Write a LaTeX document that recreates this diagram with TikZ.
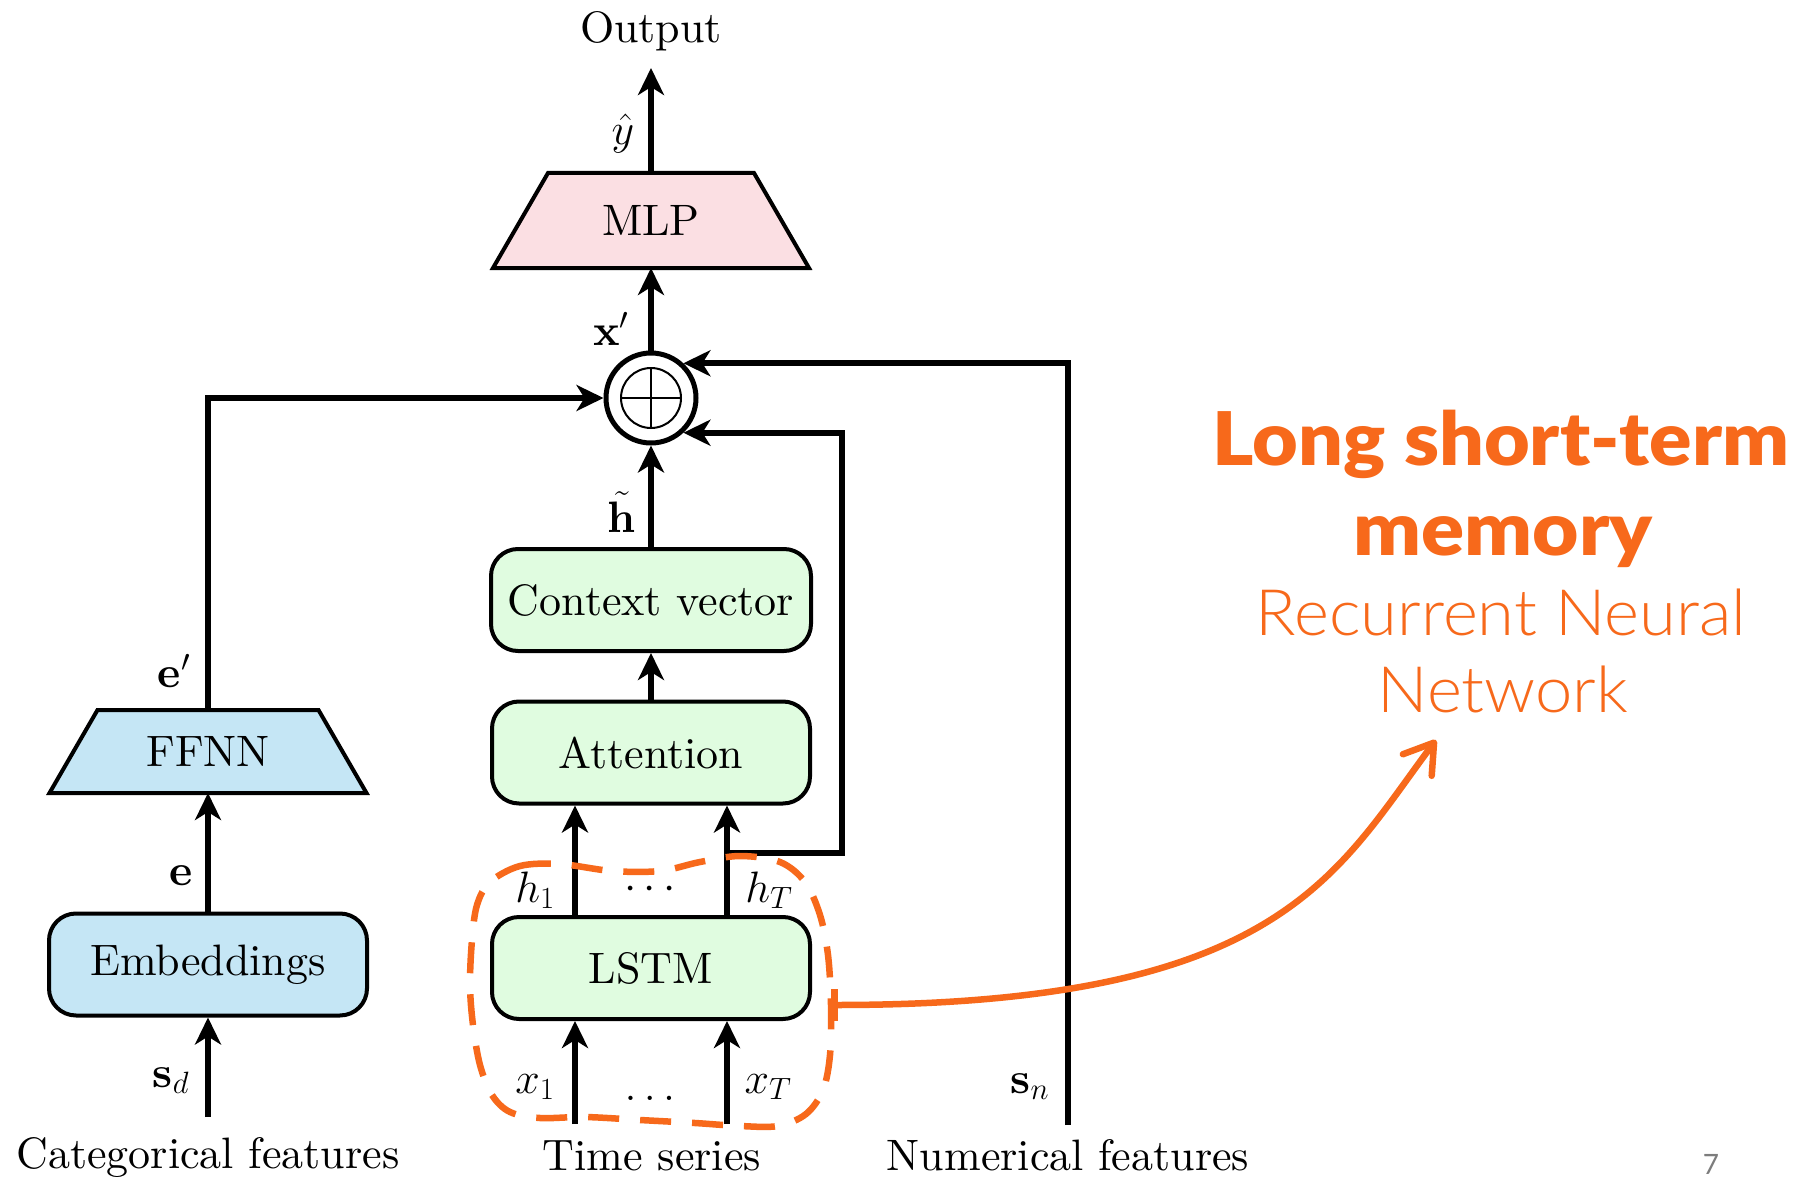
\RequirePackage{fix-cm}
\documentclass[tikz,border=0pt]{standalone}
\usepackage{fontspec}
\setmainfont{lmroman10-regular.otf}[
  BoldFont=lmroman10-bold.otf,
  ItalicFont=lmroman10-italic.otf,
  BoldItalicFont=lmroman10-bolditalic.otf]
\newfontfamily\headfont{Lato Black}
\newfontfamily\subfont{Lato Light}
\newfontfamily\pagefont{Lato}
\usetikzlibrary{arrows.meta,calc,backgrounds}

\definecolor{mlppink}{RGB}{251,223,227}
\definecolor{catblue}{RGB}{197,230,245}
\definecolor{seqgreen}{RGB}{224,252,224}
\definecolor{hiorange}{RGB}{247,105,27}
\definecolor{pagegray}{RGB}{125,125,125}

% widened orange captions
\newcommand{\headline}[2]{\scalebox{#1}[1]{#2}}

\begin{document}
\begin{tikzpicture}[x=1pt,y=-1pt,
  font=\fontsize{44}{52}\selectfont,
  conn/.style={line width=6pt},
  arr/.style={conn,-{Stealth[length=27pt,width=26pt,inset=8pt]}},
  rbox/.style={draw,line width=4pt,rounded corners=27pt,
    minimum width=318pt,minimum height=102pt,inner sep=0pt},
  trapbody/.style={inner sep=0pt,outer sep=0pt},
  trapline/.style={draw,line width=4pt,line join=miter},
  lbl/.style={anchor=base},
  hiline/.style={draw=hiorange,line width=6.5pt},
  headtxt/.style={anchor=base,text=hiorange,font=\headfont\fontsize{74}{80}\selectfont},
  subtxt/.style={anchor=base,text=hiorange,font=\subfont\fontsize{64}{70}\selectfont}]

\useasboundingbox (0,0) rectangle (1818,1177);

% ---------- blocks ----------
\node[trapbody,minimum width=316pt,minimum height=95pt] (mlp) at (651,220.5) {MLP};
\node[trapbody,minimum width=317pt,minimum height=83pt] (ffnn) at (208,751.5) {FFNN};

\node[rbox,fill=seqgreen,minimum width=320pt] (ctx) at (651,600) {Context vector};
\node[rbox,fill=seqgreen] (att) at (651,752.5) {Attention};
\node[rbox,fill=seqgreen] (lstm) at (651,968) {LSTM};
\node[rbox,fill=catblue] (emb) at (208,964.5) {Embeddings};

\node[circle,draw,line width=5pt,minimum size=90pt,inner sep=0pt,fill=white] (plus) at (651,398) {};
\draw[line width=2pt] (plus.center) circle[radius=30pt];
\draw[line width=2pt] ([xshift=-30pt]plus.center) -- ([xshift=30pt]plus.center);
\draw[line width=2pt] ([yshift=-30pt]plus.center) -- ([yshift=30pt]plus.center);

\begin{scope}[on background layer]
  \fill[white] (0,0) rectangle (1818,1177);
  \path[trapline,fill=mlppink] (mlp.south west) -- (mlp.south east)
    -- ([xshift=-55pt]mlp.north east) -- ([xshift=55pt]mlp.north west) -- cycle;
  \path[trapline,fill=catblue] (ffnn.south west) -- (ffnn.south east)
    -- ([xshift=-48pt]ffnn.north east) -- ([xshift=48pt]ffnn.north west) -- cycle;
\end{scope}

% ---------- text labels ----------
\node[lbl] (out) at (651,43) {Output};
\node[lbl] (cat) at (208,1168) {Categorical features};
\node[lbl] (ts) at (652,1170) {Time series};
\node[lbl] (num) at (1068,1170) {Numerical features};

\node[lbl] (yhat) at (623,145) {$\hat{y}$};
\node[lbl] (xp) at (611,345) {$\mathbf{x}'$};
\node[lbl,inner sep=0pt] (htl) at (622,532) {$\tilde{\mathbf{h}}$};
\node[lbl] (ep) at (174,687) {$\mathbf{e}'$};
\node[lbl] (el) at (181,885) {$\mathbf{e}$};
\node[lbl] (sd) at (171,1087) {$\mathbf{s}_d$};
\node[lbl] (sn) at (1030,1093) {$\mathbf{s}_n$};
\node[lbl] (h1) at (535,902) {$h_1$};
\node[lbl] (hT) at (769,902) {$h_T$};
\node[lbl] (hdots) at (650,899) {$\cdots$};
\node[lbl] (x1) at (535,1093) {$x_1$};
\node[lbl] (xT) at (768,1093) {$x_T$};
\node[lbl] (xdots) at (650,1100) {$\ldots$};

% ---------- connector end points ----------
\coordinate (outtip) at (651,68);
\coordinate (sdin) at (208,1117);
\coordinate (x1in) at (575,1124);
\coordinate (xTin) at (727,1124);
\coordinate (snin) at (1068,1125);
\coordinate (loopc) at (842,853);

% ---------- connectors ----------
\draw[arr] (mlp.north) -- (outtip);
\draw[arr] (plus.north) -- (mlp.south);
\draw[arr] (ctx.north) -- (plus.south);
\draw[arr] (att.north) -- (ctx.south);
\draw[arr] (lstm.north -| x1in) -- (att.south -| x1in);
\draw[arr] (lstm.north -| xTin) -- (att.south -| xTin);
\draw[arr] (x1in) -- (x1in |- lstm.south);
\draw[arr] (xTin) -- (xTin |- lstm.south);
\draw[arr] (xTin |- loopc) -- (loopc) -- (loopc |- plus.-47) -- (plus.-47);
\draw[arr] (snin) |- (plus.47);
\draw[arr] (ffnn.north) |- (plus.west);
\draw[arr] (emb.north) -- (ffnn.south);
\draw[arr] (sdin) -- (emb.south);

% ---------- highlighted LSTM region ----------
\draw[hiline,dash pattern=on 31pt off 21pt]
  plot[smooth cycle,tension=0.55] coordinates {
    (490,882) (520,866) (560,864) (612,871) (660,871) (700,862) (740,856)
    (780,862) (805,882) (820,915) (828,955) (831,1005) (830,1055) (823,1090)
    (806,1114) (778,1126) (740,1126) (695,1123) (640,1120) (585,1117)
    (540,1118) (510,1112) (492,1095) (480,1065) (473,1025) (470,985)
    (472,940) (477,905)};

\node[headtxt] (t1) at (1501,465) {\headline{1.065}{Long short-term}};
\node[headtxt] (t2) at (1503,555) {\headline{1.08}{memory}};
\node[subtxt] (t3) at (1501,635) {\headline{1.045}{Recurrent Neural}};
\node[subtxt] (t4) at (1503,712) {\headline{1.045}{Network}};

\coordinate (barpt) at (831,1005);
\coordinate (tippt) at (1436,740);
\draw[hiline,{Bar[width=32pt]}-{Straight Barb[length=28pt,width=36pt,round]}]
  (barpt) .. controls (1280,1005) and (1335,875) .. (tippt);

\node[anchor=base,inner sep=0pt,text=pagegray,font=\pagefont\fontsize{28}{30}\selectfont] (pg) at (1711,1174) {7};

\end{tikzpicture}
\end{document}
